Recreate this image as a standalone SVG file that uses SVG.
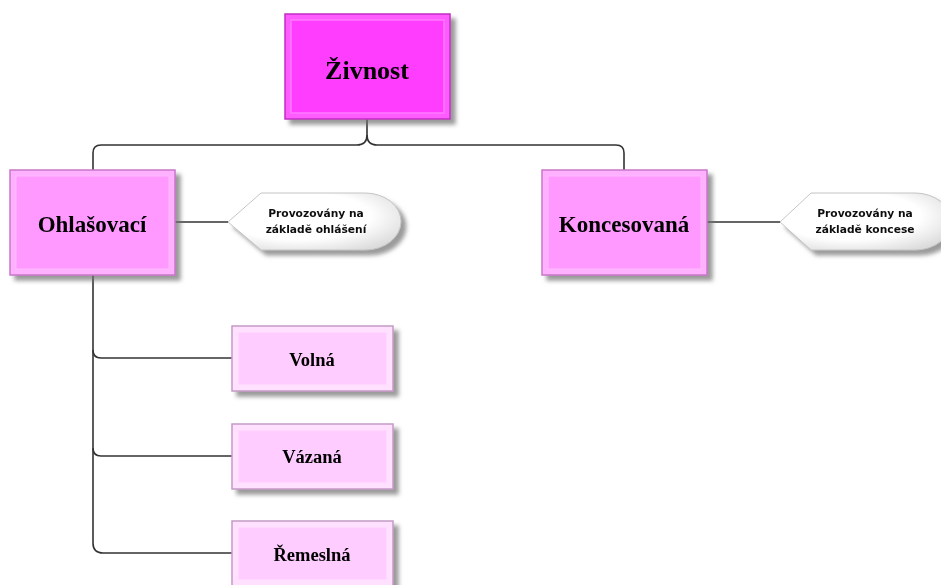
<svg xmlns="http://www.w3.org/2000/svg" width="941" height="585" viewBox="0 0 941 585">
<defs>
<filter id="sh" x="-10%" y="-10%" width="130%" height="140%">
<feDropShadow dx="5" dy="5" stdDeviation="2.2" flood-color="#707070" flood-opacity="0.7"/>
</filter>
<radialGradient id="cg" cx="0.4" cy="0.4" r="0.7">
<stop offset="0.6" stop-color="#ffffff"/>
<stop offset="1" stop-color="#dcdcdc"/>
</radialGradient>
<style>
.conn{fill:none;stroke:#333;stroke-width:1.6}
.t{font-family:"Liberation Serif","Times New Roman",serif;font-weight:bold;text-anchor:middle;fill:#000}
.ct{font-family:"DejaVu Sans",Verdana,sans-serif;font-weight:bold;font-size:10.7px;text-anchor:middle;fill:#111}
.root .o{fill:#ff5cff;stroke:#c22cc2;stroke-width:1.5}
.root .i{fill:#ff3dff;stroke:#ff7aff;stroke-width:1.5}
.mid .o{fill:#ffb0ff;stroke:#c877c8;stroke-width:1.5}
.mid .i{fill:#ff99ff;stroke:#ffbbff;stroke-width:1}
.leaf .o{fill:#ffe0ff;stroke:#c59ac5;stroke-width:1.5}
.leaf .i{fill:#ffccff;stroke:#ffe2ff;stroke-width:1}
.call{fill:url(#cg);stroke:#c4c4c4;stroke-width:1}
</style>
</defs>
<rect width="941" height="585" fill="#ffffff"/>
<g id="connectors">
<path class="conn" d="M367,119 L367,135 Q367,145 357,145 L101,145 Q93,145 93,153 L93,170"/>
<path class="conn" d="M367,135 Q367,145 377,145 L616,145 Q624,145 624,153 L624,170"/>
<path class="conn" d="M93,275 L93,543 Q93,553 103,553 L232,553"/>
<path class="conn" d="M93,350 Q93,358 101,358 L232,358"/>
<path class="conn" d="M93,448 Q93,456 101,456 L232,456"/>
<path class="conn" d="M175,222 L228,222"/>
<path class="conn" d="M707,222 L780,222"/>
</g>
<g id="zivnost" class="root" filter="url(#sh)">
<rect class="o" x="285" y="14" width="165" height="105"/>
<rect class="i" x="291" y="20" width="153" height="93"/>
<text class="t" x="367" y="79" font-size="26">Živnost</text>
</g>
<g id="ohlasovaci" class="mid" filter="url(#sh)">
<rect class="o" x="10" y="170" width="165" height="105"/>
<rect class="i" x="16" y="176" width="153" height="93"/>
<text class="t" x="92" y="232" font-size="23">Ohlašovací</text>
</g>
<g id="koncesovana" class="mid" filter="url(#sh)">
<rect class="o" x="542" y="170" width="165" height="105"/>
<rect class="i" x="548" y="176" width="153" height="93"/>
<text class="t" x="624" y="232" font-size="23">Koncesovaná</text>
</g>
<g id="callout-ohlaseni" filter="url(#sh)">
<path class="call" d="M228,222 L261,193 L365,193 A36,28.5 0 0 1 365,250 L261,250 Z"/>
<text class="ct" x="316" y="217">Provozovány na</text>
<text class="ct" x="316" y="233">základě ohlášení</text>
</g>
<g id="callout-koncese" filter="url(#sh)">
<path class="call" d="M780,222 L811,193 L915,193 A36,28.5 0 0 1 915,250 L811,250 Z"/>
<text class="ct" x="865" y="217">Provozovány na</text>
<text class="ct" x="865" y="233">základě koncese</text>
</g>
<g id="volna" class="leaf" filter="url(#sh)">
<rect class="o" x="232" y="326" width="161" height="65"/>
<rect class="i" x="238" y="332" width="149" height="53"/>
<text class="t" x="312" y="366" font-size="18.5">Volná</text>
</g>
<g id="vazana" class="leaf" filter="url(#sh)">
<rect class="o" x="232" y="424" width="161" height="65"/>
<rect class="i" x="238" y="430" width="149" height="53"/>
<text class="t" x="312" y="463" font-size="18.5">Vázaná</text>
</g>
<g id="remeslna" class="leaf" filter="url(#sh)">
<rect class="o" x="232" y="521" width="161" height="65"/>
<rect class="i" x="238" y="527" width="149" height="53"/>
<text class="t" x="312" y="561" font-size="18.5">Řemeslná</text>
</g>
</svg>
